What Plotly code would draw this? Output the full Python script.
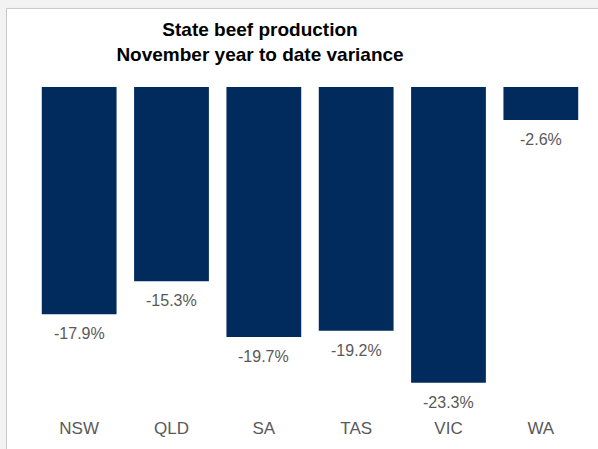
import plotly.graph_objects as go

states = ["NSW", "QLD", "SA", "TAS", "VIC", "WA"]
variance = [-17.9, -15.3, -19.7, -19.2, -23.3, -2.6]
labels = [f"{v:.1f}%" for v in variance]

W, H = 598, 449
L, R, T, B = 33, 11, 87, 29
pw, ph = W - L - R, H - T - B

fig = go.Figure()
fig.add_trace(go.Bar(
    x=states, y=variance,
    marker=dict(color="#002b5c", line=dict(width=0)),
    hoverinfo="skip",
))
for s, v, t in zip(states, variance, labels):
    fig.add_annotation(x=s, y=v, text=t, showarrow=False, yanchor="top",
                       yshift=-9, font=dict(family="Liberation Sans, Arial", size=16, color="#595959"))

# white chart panel with grey border
fig.add_shape(type="rect", xref="paper", yref="paper",
              x0=-(L - 6.5) / pw, x1=1 + (R + 20) / pw,
              y0=-(B + 20) / ph, y1=1 + (T - 7.5) / ph,
              fillcolor="white", line=dict(color="#c8c8c8", width=1), layer="below")

fig.update_layout(
    width=W, height=H,
    margin=dict(l=L, r=R, t=T, b=B),
    paper_bgcolor="#f2f2f2", plot_bgcolor="rgba(0,0,0,0)",
    bargap=0.19,
    showlegend=False,
    title=dict(text="<b>State beef production<br>November year to date variance</b>",
               x=260 / W, xanchor="center", y=1 - 36 / H, yanchor="top",
               xref="container", yref="container",
               font=dict(family="Liberation Sans, Arial", size=19, color="#000000")),
    xaxis=dict(showgrid=False, zeroline=False, showline=False, ticks="",
               tickfont=dict(family="Liberation Sans, Arial", size=17, color="#595959")),
    yaxis=dict(visible=False, range=[-(H - T - B) / 12.85, 0]),
)
fig.write_html("out.html", config={"displayModeBar": False},
               post_script="document.body.style.margin='0';document.body.style.background='#f2f2f2';document.body.style.overflow='hidden';")
